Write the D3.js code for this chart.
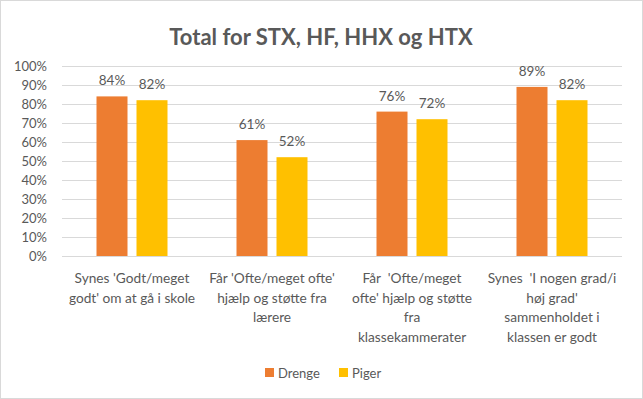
<!DOCTYPE html>
<html>
<head>
<meta charset="utf-8">
<script src="https://cdn.jsdelivr.net/npm/d3@7"></script>
<style>
  html, body { margin: 0; padding: 0; background: #fff; }
  svg { display: block; }
  text { font-family: Lato, "Open Sans", sans-serif; fill: #595959; }
  .cat { white-space: pre; }
</style>
</head>
<body>
<svg id="chart" width="643" height="399"></svg>
<script>
const title = "Total for STX, HF, HHX og HTX";
const categories = [
  "Synes 'Godt/meget godt' om at gå i skole",
  "Får 'Ofte/meget ofte' hjælp og støtte fra lærere",
  "Får  'Ofte/meget ofte' hjælp og støtte fra klassekammerater",
  "Synes  'I nogen grad/i høj grad' sammenholdet i klassen er godt"
];
const categoryLines = [
  ["Synes 'Godt/meget", "godt' om at gå i skole"],
  ["Får 'Ofte/meget ofte'", "hjælp og støtte fra", "lærere"],
  ["Får  'Ofte/meget", "ofte' hjælp og støtte", "fra", "klassekammerater"],
  ["Synes  'I nogen grad/i", "høj grad'", "sammenholdet i", "klassen er godt"]
];
const seriesNames = ["Drenge", "Piger"];
const drenge = [0.84, 0.61, 0.76, 0.89];
const piger = [0.82, 0.52, 0.72, 0.82];
const colors = ["#ED7D31", "#FFC000"];
const yTicks = [0, 0.1, 0.2, 0.3, 0.4, 0.5, 0.6, 0.7, 0.8, 0.9, 1.0];

const seriesValues = [drenge, piger];
const svg = d3.select("#chart");

svg.append("rect").attr("x", 0.5).attr("y", 0.5).attr("width", 642).attr("height", 398)
  .attr("fill", "#fff").attr("stroke", "#d9d9d9");

const plot = { left: 62, right: 622, top: 66, bottom: 256 };

const x0 = d3.scaleBand().domain(categories).range([plot.left, plot.right]);
const x1 = d3.scaleBand().domain(seriesNames).range([-35.5, 35.5]).paddingInner(0.225);
const y = d3.scaleLinear().domain([0, 1]).range([plot.bottom, plot.top]);

// title
svg.append("text").attr("x", 321).attr("y", 45).attr("text-anchor", "middle")
  .attr("font-size", 22).attr("font-weight", "bold").text(title);

// gridlines
svg.append("g").selectAll("line").data(yTicks).join("line")
  .attr("x1", plot.left).attr("x2", plot.right)
  .attr("y1", d => Math.round(y(d)) + 0.5).attr("y2", d => Math.round(y(d)) + 0.5)
  .attr("stroke", "#d9d9d9").attr("stroke-width", 1);

// y axis labels
const yAxis = d3.axisLeft(y).tickValues(yTicks).tickFormat(d3.format(".0%")).tickSize(0).tickPadding(0);
const gy = svg.append("g").attr("transform", `translate(${plot.left - 15},0)`).call(yAxis);
gy.select(".domain").remove();
gy.selectAll("text").attr("font-size", 13).attr("font-family", "Lato, sans-serif").attr("fill", "#595959");

// bars
const groups = svg.append("g").selectAll("g").data(categories).join("g")
  .attr("transform", d => `translate(${x0(d) + x0.bandwidth() / 2},0)`);

groups.selectAll("rect").data((d, i) => seriesNames.map((s, j) => ({ s, j, v: seriesValues[j][i] })))
  .join("rect")
  .attr("x", d => x1(d.s)).attr("width", x1.bandwidth())
  .attr("y", d => y(d.v)).attr("height", d => y(0) - y(d.v))
  .attr("fill", d => colors[d.j]);

groups.selectAll("text.val").data((d, i) => seriesNames.map((s, j) => ({ s, j, v: seriesValues[j][i] })))
  .join("text").attr("class", "val")
  .attr("x", d => x1(d.s) + x1.bandwidth() / 2).attr("y", d => y(d.v) - 11)
  .attr("text-anchor", "middle").attr("font-size", 13.5)
  .text(d => d3.format(".0%")(d.v));

// category axis line
svg.append("line").attr("x1", plot.left).attr("x2", plot.right)
  .attr("y1", plot.bottom + 0.5).attr("y2", plot.bottom + 0.5).attr("stroke", "#d9d9d9");

// category labels
groups.append("text").attr("class", "cat").attr("text-anchor", "middle").attr("font-size", 13.7)
  .selectAll("tspan").data((d, i) => categoryLines[i]).join("tspan")
  .attr("x", 0).attr("y", (d, k) => 283 + k * 19.5).text(d => d);

// legend
const legend = svg.append("g");
const legX = [265, 339];
seriesNames.forEach((s, j) => {
  legend.append("rect").attr("x", legX[j]).attr("y", 368).attr("width", 9).attr("height", 9).attr("fill", colors[j]);
  legend.append("text").attr("x", legX[j] + 13).attr("y", 377.5).attr("font-size", 13).text(s);
});
</script>
</body>
</html>
